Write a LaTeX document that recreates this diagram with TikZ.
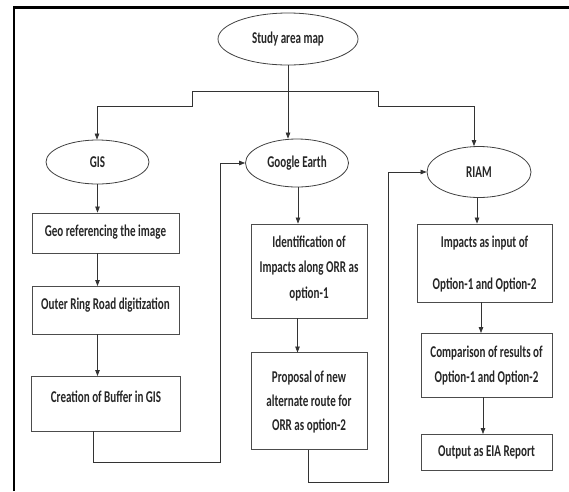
\documentclass[tikz,border=0pt]{standalone}
\usepackage{fontspec}
\newfontfamily\dfont{Carlito}[FakeStretch=0.67]
\usetikzlibrary{arrows.meta,shapes.geometric,calc}
\tikzset{
  ln/.style={draw=black!80,line width=0.75pt},
  arr/.style={ln,-{Triangle[length=6pt,width=4.5pt]}},
  oval/.style={ellipse,draw=black!75,line width=0.8pt,inner sep=0pt,
    font=\dfont\bfseries\fontsize{16.5}{19}\selectfont,text=black!85},
  box/.style={rectangle,draw=black!70,line width=0.85pt,inner sep=0pt},
  txt/.style={inner sep=0pt,align=center,text=black!85},
  t1/.style={txt,font=\dfont\bfseries\fontsize{16.5}{19}\selectfont},
}
\begin{document}
\begin{tikzpicture}[x=1pt,y=-1pt]
\useasboundingbox (0,0) rectangle (569,491);
% frame
\draw[line width=2.3pt,black] (14,491) -- (14,7.5) -- (569,7.5);
% ellipses
\node[oval,minimum width=140,minimum height=52] (study) at (288,39) {Study area map};
\node[oval,minimum width=103,minimum height=44] (gis) at (97.5,162) {GIS};
\node[oval,minimum width=103,minimum height=48] (ge) at (297,163) {Google Earth};
\node[oval,minimum width=104,minimum height=51] (riam) at (479,172) {RIAM};
% GIS column
\node[box,minimum width=147,minimum height=40] (geo) at (105.5,233) {};
\node[t1] (geoT) at (105.5,232) {Geo referencing the image};
\node[box,minimum width=147,minimum height=48] (orr) at (105.5,310) {};
\node[t1] (orrT) at (105.5,305) {Outer Ring Road digitization};
\node[box,minimum width=149,minimum height=55] (cre) at (106,403.5) {};
\node[t1] (creT) at (106,397) {Creation of Buffer in GIS};
% Google Earth column
\node[box,minimum width=116,minimum height=94] (ide) at (309,271) {};
\node[txt,font=\dfont\bfseries\fontsize{16.5}{25.5}\selectfont] (ideT) at (309,268)
  {Identification of\\Impacts along ORR as\\option-1};
\node[box,minimum width=116,minimum height=97] (pro) at (309,401) {};
\node[txt,font=\dfont\bfseries\fontsize{16.5}{24}\selectfont] (proT) at (309,402)
  {Proposal of new\\alternate route for\\ORR as option-2};
% RIAM column
\node[box,minimum width=135,minimum height=78] (imp) at (484.5,263) {};
\node[txt,font=\dfont\bfseries\fontsize{16.5}{42}\selectfont] (impT) at (484.5,264)
  {Impacts as input of\\Option-1 and Option-2};
\node[box,minimum width=131,minimum height=64] (com) at (486.5,365) {};
\node[txt,font=\dfont\bfseries\fontsize{16.5}{25}\selectfont] (comT) at (486.5,365)
  {Comparison of results of\\Option-1 and Option-2};
\node[box,minimum width=131,minimum height=36] (out) at (486.5,452) {};
\node[t1] (outT) at (486.5,452) {Output as EIA Report};
% top distribution
\coordinate (busL) at (192,91);
\coordinate (busR) at (378,91);
\draw[arr] (study.south) -- (study.south |- ge.north);
\draw[ln] (busL) -- (busR);
\draw[arr] (busL) -- (192,106) -| ([xshift=-0.5pt]gis.north);
\draw[arr] (busR) -- (378,106) -| ([xshift=-5pt]riam.north);
% GIS chain
\draw[arr] (gis.south) -- (gis.south |- geo.north);
\draw[arr] (97.5,253) -- (97.5,286);
\draw[arr] (97.5,334) -- (97.5,376);
% GE chain
\draw[arr] ([xshift=1pt]ge.south) -- ([xshift=1pt]ge.south |- ide.north);
\draw[arr] (297.5,318) -- (297.5,352.5);
% RIAM chain
\draw[arr] ([xshift=-2pt]riam.south) -- ([xshift=-2pt]riam.south |- imp.north);
\draw[arr] (481,302) -- (481,333);
\draw[arr] (483,397) -- (483,434);
% feedback loops
\draw[arr] ([xshift=-12.5pt]cre.south) |- (220,462) |- (ge.west);
\draw[arr] ([xshift=-1pt]pro.south) |- (388,482) |- (riam.west);
\end{tikzpicture}
\end{document}
